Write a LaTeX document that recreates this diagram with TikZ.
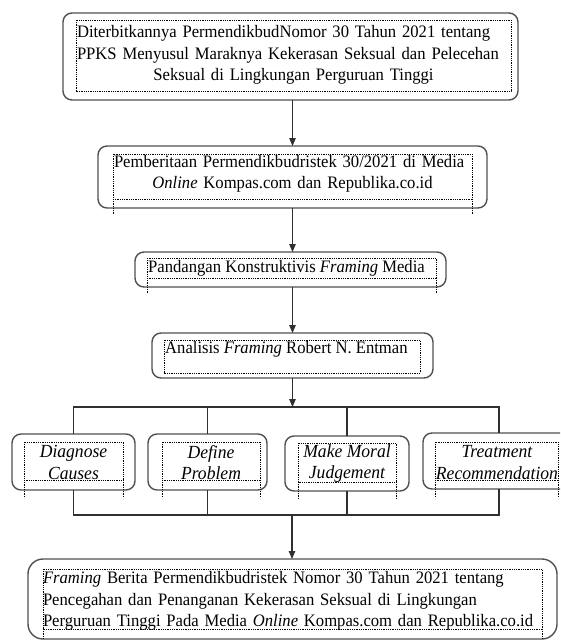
\documentclass[tikz,border=0pt]{standalone}
\usepackage{fontspec}
\setmainfont{Liberation Serif}[FakeStretch=0.95]
\usetikzlibrary{arrows.meta}
\definecolor{boxgray}{HTML}{505050}
\definecolor{linegray}{HTML}{303030}
\begin{document}
\begin{tikzpicture}[x=1pt,y=-1pt,
  box/.style={draw=boxgray, line width=1.4pt, rounded corners=9pt, inner sep=0pt, outer sep=0pt},
  frame/.style={draw=black, line width=0.7pt, dash pattern=on 0.9pt off 0.9pt},
  txt/.style={inner sep=0pt, font=\fontsize{17.5}{21.5}\selectfont},
  itxt/.style={inner sep=0pt, align=center, font=\fontsize{18.5}{21.5}\selectfont\itshape},
  conn/.style={draw=linegray, line width=1.2pt},
  arr/.style={conn, -{Triangle[length=8pt,width=6.5pt]}}]
\useasboundingbox (0,0) rectangle (560,640);
\clip (0,0) rectangle (560,640);

% Box 1
\node[box, minimum width=455pt, minimum height=87pt] (b1) at (290.5,56.5) {};
\draw[frame] (76,20) rectangle (511,91);
\node[txt, align=center, text width=435pt] (t1) at (293.5,55)
  {\makebox[433pt][s]{Diterbitkannya PermendikbudNomor 30 Tahun 2021 tentang}\\
   \makebox[433pt][s]{PPKS Menyusul Maraknya Kekerasan Seksual dan Pelecehan}\\
   Seksual di Lingkungan Perguruan Tinggi};

% Box 2
\node[box, minimum width=389pt, minimum height=62pt] (b2) at (292.5,177) {};
\draw[frame] (113,154) rectangle (472,199);
\draw[frame] (113,199) -- (113,214) (472,199) -- (472,214);
\node[txt, align=center, text width=359pt] (t2) at (292.5,174)
  {\makebox[357pt][s]{Pemberitaan Permendikbudristek 30/2021 di Media}\\
   \textit{Online} Kompas.com dan Republika.co.id};

% Box 3
\node[box, minimum width=311pt, minimum height=35pt] (b3) at (290.5,269.5) {};
\draw[frame] (147,258) rectangle (436,278);
\draw[frame] (147,278) -- (147,293) (436,278) -- (436,293);
\node[txt, anchor=west] (t3) at (148,268) {Pandangan Konstruktivis \textit{Framing} Media};

% Box 4
\node[box, minimum width=281pt, minimum height=45pt] (b4) at (292.5,355.5) {};
\draw[frame] (164,340) rectangle (420,373);
\node[txt, anchor=west] (t4) at (165,349) {Analisis \textit{Framing} Robert N. Entman};

% Boxes 5-8
\node[box, minimum width=123pt, minimum height=56pt] (b5) at (73.5,462) {};
\node[box, minimum width=119pt, minimum height=56pt] (b6) at (207.5,462) {};
\node[box, minimum width=124pt, minimum height=55pt] (b7) at (347,463.5) {};
\node[box, minimum width=152pt, minimum height=56pt] (b8) at (499,461) {};
\draw[frame] (24,442) rectangle (123,480);
\draw[frame] (24,480) -- (24,498) (123,480) -- (123,498);
\draw[frame] (162,442) rectangle (260,480);
\draw[frame] (162,480) -- (162,498) (260,480) -- (260,498);
\draw[frame] (298,443) rectangle (396,482);
\draw[frame] (298,482) -- (298,499) (396,482) -- (396,499);
\draw[frame] (435,442) rectangle (558,480);
\draw[frame] (435,480) -- (435,498) (558,480) -- (558,498);
\node[itxt] (t5) at (73.5,462.5) {Diagnose\\Causes};
\node[itxt] (t6) at (211,462.5) {Define\\Problem};
\node[itxt] (t7) at (347,463.5) {Make Moral\\Judgement};
\node[itxt] (t8) at (497,462.5) {Treatment\\Recommendation};

% Box 9
\node[box, rounded corners=15pt, minimum width=529pt, minimum height=80pt] (b9) at (292.5,599) {};
\draw[frame] (43,569) rectangle (542,629);
\draw[frame] (43,629) -- (43,640) (542,629) -- (542,640);
\node[txt, align=left, text width=499pt] (t9) at (292.5,601)
  {\makebox[499pt][s]{\textit{Framing} Berita Permendikbudristek Nomor 30 Tahun 2021 tentang}\\
   \makebox[499pt][s]{Pencegahan dan Penanganan Kekerasan Seksual di Lingkungan}\\
   \makebox[499pt][s]{Perguruan Tinggi Pada Media \textit{Online} Kompas.com dan Republika.co.id}};

% Connectors
\coordinate (jt) at (292,407);
\coordinate (jb) at (292,515);
\draw[arr] (b2.north |- b1.south) -- (b2.north);
\draw[arr] (b2.south) -- (b2.south |- b3.north);
\draw[arr] (b4.north |- b3.south) -- (b4.north);
\draw[arr] (b4.south) -- (b4.south |- jt);
\draw[conn] (b5.north) |- (jt) -| (b8.north);
\draw[conn] (b6.north) -- (b6.north |- jt);
\draw[conn] (b7.north) -- (b7.north |- jt);
\draw[conn] (b5.south) |- (jb) -| (b8.south);
\draw[conn] (b6.south) -- (b6.south |- jb);
\draw[conn] (b7.south) -- (b7.south |- jb);
\draw[arr] (jb) -- (jb |- b9.north);
\end{tikzpicture}
\end{document}
